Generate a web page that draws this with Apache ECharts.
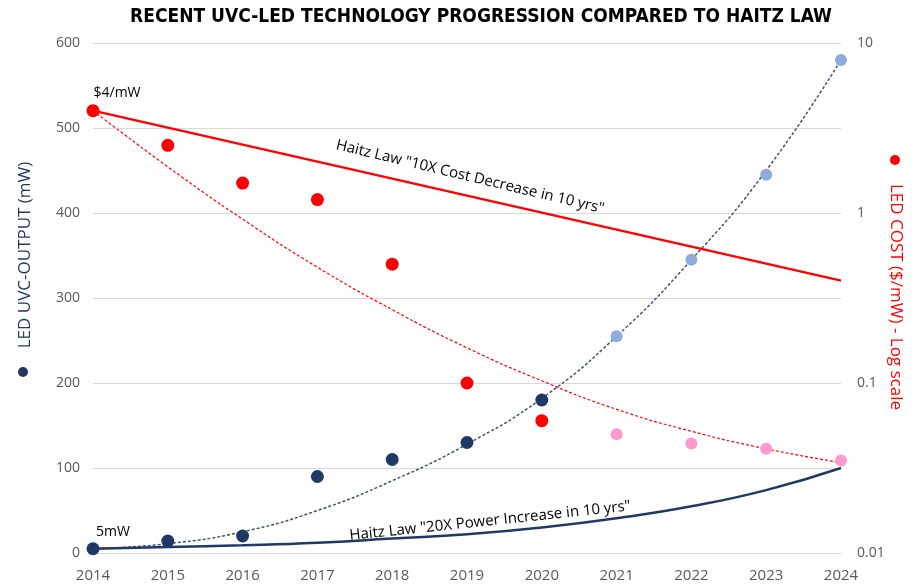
<!DOCTYPE html>
<html lang="en">
<head>
    <meta charset="UTF-8">
    <title>UVC-LED progression vs Haitz law</title>
    <script src="https://cdn.jsdelivr.net/npm/echarts@6/dist/echarts.min.js"></script>
    <style>
        html, body { margin: 0; padding: 0; background: #fff; }
        #chart { width: 919px; height: 587px; }
    </style>
</head>
<body>
    <div id="chart"></div>
    <script>
        // years on the x axis
        var years = [2014, 2015, 2016, 2017, 2018, 2019, 2020, 2021, 2022, 2023, 2024];

        // LED output (mW) - measured and projected
        var outputActual = [5, 14, 20, 90, 110, 130, 180];
        var outputProjected = [255, 345, 445, 580];
        var outputTrend = [5, 11, 25, 50, 85, 128, 182, 255, 345, 450, 580];
        var haitzPower = [5, 7, 9, 12, 17, 22, 30, 41, 55, 74, 100];

        // LED cost ($/mW) - measured and projected
        var costActual = [4, 2.5, 1.5, 1.2, 0.5, 0.1, 0.06];
        var costProjected = [0.05, 0.044, 0.041, 0.035];
        var costTrend = [4, 1.87, 0.92, 0.48, 0.27, 0.161, 0.103, 0.070, 0.052, 0.041, 0.034];
        var haitzCostYears = [2014, 2024];
        var haitzCost = [4, 0.4];

        var leftTicks = [0, 100, 200, 300, 400, 500, 600];
        var rightTicks = [0.01, 0.1, 1, 10];

        var navy = '#203864';
        var lightBlue = '#8faadc';
        var red = '#ff0000';
        var pink = '#ff99cc';
        var grey = '#595959';
        var font = 'Open Sans, sans-serif';

        function pairs(xs, ys, offset) {
            var out = [];
            for (var i = 0; i < ys.length; i++) out.push([xs[i + (offset || 0)], ys[i]]);
            return out;
        }

        var chart = echarts.init(document.getElementById('chart'));
        chart.setOption({
            animation: false,
            grid: { left: 93, right: 78, top: 43, bottom: 34 },
            xAxis: {
                type: 'value',
                min: 2014, max: 2024, interval: 1,
                axisLine: { show: false },
                axisTick: { show: false },
                splitLine: { show: false },
                axisLabel: { color: grey, fontSize: 15, fontFamily: font, margin: 15, formatter: function (v) { return String(v); } }
            },
            yAxis: [{
                type: 'value',
                min: leftTicks[0], max: leftTicks[leftTicks.length - 1], interval: 100,
                axisLine: { show: false },
                axisTick: { show: false },
                axisLabel: { color: grey, fontSize: 14, fontFamily: font, margin: 13 },
                splitLine: { lineStyle: { color: '#d9d9d9', width: 1 } }
            }, {
                type: 'log',
                logBase: 10,
                min: rightTicks[0], max: rightTicks[rightTicks.length - 1],
                axisLine: { show: false },
                axisTick: { show: false },
                splitLine: { show: false },
                axisLabel: {
                    color: grey, fontSize: 14, fontFamily: font, margin: 16,
                    formatter: function (v) { return String(+v.toPrecision(2)); }
                }
            }],
            series: [{
                name: 'Output trend',
                type: 'line',
                smooth: true,
                symbol: 'none',
                data: pairs(years, outputTrend),
                lineStyle: { color: '#44546a', width: 1.5, type: [3, 2] },
                z: 2
            }, {
                name: 'Haitz power',
                type: 'line',
                smooth: true,
                symbol: 'none',
                data: pairs(years, haitzPower),
                lineStyle: { color: navy, width: 2.5 },
                z: 2
            }, {
                name: 'Cost trend',
                type: 'line',
                yAxisIndex: 1,
                smooth: true,
                symbol: 'none',
                data: pairs(years, costTrend),
                lineStyle: { color: red, width: 1.2, type: [3, 2] },
                z: 2
            }, {
                name: 'Haitz cost',
                type: 'line',
                yAxisIndex: 1,
                symbol: 'none',
                data: pairs(haitzCostYears, haitzCost),
                lineStyle: { color: red, width: 2.5 },
                z: 2
            }, {
                name: 'Output',
                type: 'scatter',
                symbolSize: 13,
                itemStyle: { color: navy, opacity: 1 },
                data: pairs(years, outputActual),
                label: {
                    show: true,
                    position: 'top',
                    distance: 3,
                    offset: [20, 0],
                    color: '#000', fontSize: 14, fontFamily: font,
                    formatter: function (p) { return p.dataIndex === 0 ? '5mW' : ''; }
                },
                z: 3
            }, {
                name: 'Output projected',
                type: 'scatter',
                symbolSize: 12,
                itemStyle: { color: lightBlue, opacity: 1 },
                data: pairs(years, outputProjected, 7),
                z: 3
            }, {
                name: 'Cost',
                type: 'scatter',
                yAxisIndex: 1,
                symbolSize: 13,
                itemStyle: { color: red, opacity: 1 },
                data: pairs(years, costActual),
                label: {
                    show: true,
                    position: 'top',
                    distance: 4,
                    offset: [24, 0],
                    color: '#000', fontSize: 14, fontFamily: font,
                    formatter: function (p) { return p.dataIndex === 0 ? '$4/mW' : ''; }
                },
                z: 3
            }, {
                name: 'Cost projected',
                type: 'scatter',
                yAxisIndex: 1,
                symbolSize: 12,
                itemStyle: { color: pink, opacity: 1 },
                data: pairs(years, costProjected, 7),
                z: 3
            }],
            graphic: [{
                type: 'text',
                x: 481, y: 17,
                style: {
                    text: 'RECENT UVC-LED TECHNOLOGY PROGRESSION COMPARED TO HAITZ LAW',
                    fill: '#000', fontSize: 19, fontWeight: 'bold',
                    fontFamily: 'DejaVu Sans Condensed, Liberation Sans Narrow, sans-serif',
                    align: 'center', verticalAlign: 'middle'
                }
            }, {
                type: 'text',
                x: 25, y: 255,
                rotation: Math.PI / 2,
                style: {
                    text: 'LED UVC-OUTPUT (mW)',
                    fill: navy, fontSize: 17, fontFamily: font,
                    align: 'center', verticalAlign: 'middle'
                }
            }, {
                type: 'circle',
                shape: { cx: 23, cy: 372, r: 5 },
                style: { fill: navy }
            }, {
                type: 'text',
                x: 896, y: 297,
                rotation: -Math.PI / 2,
                style: {
                    text: 'LED COST ($/mW) - Log scale',
                    fill: red, fontSize: 17, fontFamily: font,
                    align: 'center', verticalAlign: 'middle'
                }
            }, {
                type: 'circle',
                shape: { cx: 895, cy: 160, r: 5 },
                style: { fill: red }
            }, {
                type: 'text',
                x: 470, y: 177,
                rotation: -13.5 * Math.PI / 180,
                style: {
                    text: 'Haitz Law "10X Cost Decrease in 10 yrs"',
                    fill: '#000', fontSize: 15, fontFamily: font,
                    align: 'center', verticalAlign: 'middle'
                },
                z: 10
            }, {
                type: 'text',
                x: 490, y: 521,
                rotation: 6 * Math.PI / 180,
                style: {
                    text: 'Haitz Law "20X Power Increase in 10 yrs"',
                    fill: '#000', fontSize: 15, fontFamily: font,
                    align: 'center', verticalAlign: 'middle'
                },
                z: 10
            }]
        });
    </script>
</body>
</html>
